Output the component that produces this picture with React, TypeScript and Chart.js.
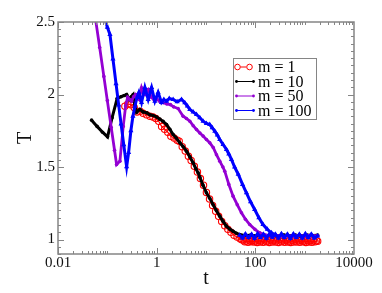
import React, { useEffect, useRef } from "react";
import { Chart, registerables } from "chart.js";
Chart.register(...registerables);

// ---- tick labels ----
const X_TICKS = [0.01, 1, 100, 10000];
const Y_TICKS = [1, 1.5, 2, 2.5];

// ---- m = 1 (red circles) ----
const tM1 = [0.227, 0.26, 0.3, 0.35, 0.4, 0.46, 0.53, 0.62, 0.73, 0.84, 0.96, 1.1, 1.26, 1.45, 1.68, 1.94, 2.25, 2.6, 2.86, 3.3, 3.8, 4.4, 5.0, 5.8, 6.7, 7.7, 8.9, 10.2, 11.8, 13.6, 15.7, 18, 20.8, 24, 27.7, 32, 37, 42.6, 49, 53, 57, 61, 66, 71, 76, 82, 88, 94, 101, 109, 117, 126, 135, 145, 155, 167, 179, 192, 206, 222, 238, 256, 274, 295, 316, 340, 364, 392, 420, 452, 484, 520, 558, 600, 643, 690, 741, 797, 855, 918, 985, 1058, 1136, 1220, 1310, 1408, 1510, 1620, 1740, 1833];
const TM1 = [1.919, 1.935, 1.93, 1.91, 1.88, 1.885, 1.87, 1.86, 1.85, 1.845, 1.834, 1.815, 1.78, 1.76, 1.74, 1.712, 1.70, 1.685, 1.678, 1.64, 1.61, 1.575, 1.545, 1.505, 1.465, 1.42, 1.375, 1.325, 1.28, 1.235, 1.195, 1.16, 1.125, 1.095, 1.07, 1.05, 1.03, 1.017, 1.005, 0.998, 0.996, 0.985, 0.99, 0.981, 0.993, 0.984, 0.995, 0.982, 0.992, 0.98, 0.995, 0.983, 0.993, 0.981, 0.996, 0.984, 0.992, 0.98, 0.994, 0.983, 0.995, 0.982, 0.993, 0.98, 0.996, 0.984, 0.993, 0.981, 0.995, 0.983, 0.992, 0.98, 0.994, 0.982, 0.996, 0.983, 0.993, 0.981, 0.995, 0.984, 0.992, 0.98, 0.994, 0.983, 0.995, 0.981, 0.993, 0.984, 0.992, 0.988];

// ---- m = 10 (black) ----
const tM10 = [0.048, 0.062, 0.08, 0.101, 0.125, 0.158, 0.19, 0.22, 0.246, 0.277, 0.305, 0.334, 0.36, 0.392, 0.457, 0.53, 0.625, 0.73, 0.849, 1.0, 1.16, 1.35, 1.585, 1.85, 2.16, 2.5, 2.95, 3.45, 4.03, 4.7, 5.48, 6.2, 6.92, 7.49, 8.7, 10.2, 11.9, 13.9, 16.2, 19, 22.2, 26, 30.3, 35.4, 41.3, 48.3, 60, 80, 100, 130, 170, 220, 290, 380, 500, 650, 850, 1100, 1450, 1833];
const TM10 = [1.823, 1.78, 1.74, 1.708, 1.84, 1.972, 1.985, 1.993, 2.0, 1.966, 1.985, 2.0, 1.93, 1.878, 1.897, 1.88, 1.874, 1.86, 1.855, 1.845, 1.83, 1.815, 1.793, 1.76, 1.724, 1.70, 1.667, 1.64, 1.609, 1.57, 1.529, 1.49, 1.46, 1.43, 1.375, 1.322, 1.285, 1.241, 1.2, 1.161, 1.125, 1.092, 1.072, 1.057, 1.043, 1.034, 1.028, 1.03, 1.025, 1.032, 1.027, 1.03, 1.024, 1.031, 1.026, 1.03, 1.025, 1.031, 1.027, 1.03];

// ---- m = 50 (purple) ----
const tM50 = [0.0565, 0.07, 0.085, 0.1, 0.12, 0.14, 0.154, 0.18, 0.21, 0.235, 0.258, 0.285, 0.31, 0.34, 0.374, 0.41, 0.442, 0.494, 0.54, 0.577, 0.62, 0.673, 0.789, 0.9, 1.0, 1.17, 1.355, 1.6, 1.9, 2.2, 2.72, 3.44, 4.0, 4.7, 5.5, 6.42, 7.5, 8.73, 10.2, 11.9, 14, 16.3, 19, 22, 24, 29, 35.4, 43, 52.3, 63, 77, 98, 123, 160, 210, 270, 350, 450, 580, 750, 970, 1250, 1600, 1833];
const TM50 = [2.54, 2.324, 2.125, 1.958, 1.772, 1.615, 1.517, 1.54, 1.78, 1.92, 1.98, 1.965, 1.954, 1.985, 2.0, 1.98, 1.966, 2.046, 2.01, 2.0, 2.02, 2.034, 1.979, 1.96, 1.97, 1.95, 1.943, 1.935, 1.93, 1.915, 1.903, 1.85, 1.835, 1.816, 1.785, 1.759, 1.735, 1.713, 1.69, 1.667, 1.635, 1.585, 1.54, 1.50, 1.471, 1.38, 1.299, 1.24, 1.184, 1.14, 1.103, 1.07, 1.046, 1.03, 1.025, 1.028, 1.022, 1.027, 1.024, 1.028, 1.023, 1.027, 1.024, 1.026];

// ---- m = 100 (blue) ----
const tM100 = [0.087, 0.1, 0.113, 0.13, 0.15, 0.17, 0.19, 0.215, 0.246, 0.27, 0.3, 0.33, 0.362, 0.4, 0.436, 0.494, 0.577, 0.673, 0.789, 0.92, 1.07, 1.256, 1.4, 1.585, 1.8, 2.16, 2.6, 3.19, 3.72, 4.2, 4.7, 5.5, 6.42, 7.5, 8.73, 10.2, 11.9, 13.4, 15.1, 17, 19, 22.2, 26, 29, 32.8, 38, 45, 55, 66, 80, 97, 118, 143, 175, 212, 260];
const TM100 = [2.54, 2.464, 2.414, 2.245, 2.075, 1.927, 1.796, 1.654, 1.501, 1.60, 1.75, 1.85, 1.919, 1.98, 2.014, 1.945, 2.048, 1.966, 2.048, 1.954, 2.014, 1.945, 1.965, 1.954, 1.972, 1.966, 1.95, 1.966, 1.943, 1.92, 1.897, 1.88, 1.862, 1.84, 1.816, 1.80, 1.793, 1.77, 1.747, 1.72, 1.69, 1.655, 1.621, 1.59, 1.552, 1.50, 1.45, 1.38, 1.322, 1.26, 1.207, 1.15, 1.103, 1.07, 1.046, 1.03];
// blue flat band at late times
const tM100Tail = [48, 55, 63, 73, 84, 96, 111, 127, 146, 168, 193, 222, 255, 294, 338, 388, 447, 514, 591, 679, 781, 898, 1033, 1188, 1366, 1571, 1833];
const TM100Tail = [1.03, 1.01, 1.038, 1.013, 1.036, 1.008, 1.039, 1.014, 1.037, 1.009, 1.038, 1.015, 1.036, 1.01, 1.039, 1.013, 1.037, 1.008, 1.038, 1.014, 1.036, 1.01, 1.039, 1.013, 1.037, 1.011, 1.025];

const SERIF = '"Liberation Serif", "DejaVu Serif", serif';
const AXIS_COLOR = "#858585";

const pts = (ts: number[], vs: number[]) => ts.map((t, i) => ({ x: t, y: vs[i] }));

const framePlugin = {
  id: "frameTicks",
  afterDatasetsDraw(chart: any) {
    const { ctx, chartArea: a, scales } = chart;
    const xs = scales.x;
    const ys = scales.y;
    ctx.save();
    ctx.strokeStyle = AXIS_COLOR;
    ctx.lineWidth = 1.5;
    ctx.strokeRect(a.left, a.top, a.right - a.left, a.bottom - a.top);
    ctx.lineWidth = 1;
    ctx.beginPath();
    for (let d = -2; d <= 3; d++) {
      for (let m = 1; m <= 9; m++) {
        const v = m * Math.pow(10, d);
        const px = Math.round(xs.getPixelForValue(v)) + 0.5;
        const major = X_TICKS.some((t) => Math.abs(t - v) / t < 1e-6);
        const len = major ? 6 : 3;
        ctx.moveTo(px, a.bottom);
        ctx.lineTo(px, a.bottom - len);
        ctx.moveTo(px, a.top);
        ctx.lineTo(px, a.top + len);
      }
    }
    for (let k = 18; k <= 50; k++) {
      const v = k * 0.05;
      const py = Math.round(ys.getPixelForValue(v)) + 0.5;
      const major = k % 10 === 0;
      const len = major ? 6 : 3;
      ctx.moveTo(a.left, py);
      ctx.lineTo(a.left + len, py);
      ctx.moveTo(a.right, py);
      ctx.lineTo(a.right - len, py);
    }
    ctx.stroke();
    ctx.restore();
  },
};

const legendPlugin = {
  id: "insetLegend",
  afterDraw(chart: any) {
    const { ctx } = chart;
    const bx = 233, by = 58, bw = 83, bh = 61;
    ctx.save();
    ctx.fillStyle = "#ffffff";
    ctx.fillRect(bx, by, bw, bh);
    ctx.strokeStyle = AXIS_COLOR;
    ctx.lineWidth = 1;
    ctx.strokeRect(bx + 0.5, by + 0.5, bw, bh);
    chart.data.datasets.forEach((ds: any, i: number) => {
      const y = by + 9 + i * 14.5;
      const c = ds.borderColor;
      ctx.strokeStyle = c;
      ctx.fillStyle = c;
      ctx.lineWidth = 1;
      if (i === 0) {
        ctx.beginPath();
        ctx.moveTo(240.5, y);
        ctx.lineTo(246, y);
        ctx.stroke();
        [237.5, 249.5].forEach((cx) => {
          ctx.beginPath();
          ctx.arc(cx, y, 2.8, 0, Math.PI * 2);
          ctx.stroke();
        });
      } else {
        ctx.beginPath();
        ctx.moveTo(236, y);
        ctx.lineTo(254, y);
        ctx.stroke();
        [236.5, 253.5].forEach((cx) => {
          ctx.beginPath();
          ctx.arc(cx, y, 1.4, 0, Math.PI * 2);
          ctx.fill();
        });
      }
      ctx.fillStyle = "#000";
      ctx.font = `16px ${SERIF}`;
      ctx.textBaseline = "middle";
      ctx.textAlign = "left";
      ctx.fillText(ds.label, 258, y + 1);
    });
    ctx.restore();
  },
};

export default function App() {
  const ref = useRef<HTMLCanvasElement>(null);
  useEffect(() => {
    document.body.style.margin = "0";
    if (!ref.current) return;
    const blueData: any[] = [
      ...pts(tM100, TM100),
      { x: tM100Tail[0], y: null },
      ...pts(tM100Tail, TM100Tail),
    ];
    const chart = new Chart(ref.current, {
      type: "line",
      data: {
        datasets: [
          {
            label: "m = 1",
            data: pts(tM1, TM1),
            borderColor: "#ff0000",
            borderWidth: 1.2,
            pointStyle: "circle",
            pointRadius: 3.2,
            pointBorderWidth: 1.1,
            pointBorderColor: "#ff0000",
            pointBackgroundColor: "rgba(255,255,255,0)",
            order: 4,
          },
          {
            label: "m = 10",
            data: pts(tM10, TM10),
            borderColor: "#000000",
            backgroundColor: "#000000",
            borderWidth: 3,
            pointRadius: 1.8,
            pointBorderWidth: 0,
            pointBackgroundColor: "#000000",
            order: 3,
          },
          {
            label: "m = 50",
            data: pts(tM50, TM50),
            borderColor: "#9400d3",
            backgroundColor: "#9400d3",
            borderWidth: 2.8,
            pointRadius: 1.8,
            pointBorderWidth: 0,
            pointBackgroundColor: "#9400d3",
            order: 2,
          },
          {
            label: "m = 100",
            data: blueData,
            borderColor: "#0000ff",
            backgroundColor: "#0000ff",
            borderWidth: 3,
            pointStyle: "triangle",
            pointRadius: 3,
            pointBorderWidth: 0,
            pointBackgroundColor: "#0000ff",
            order: 1,
          },
        ],
      },
      options: {
        animation: false,
        responsive: false,
        events: [],
        layout: { padding: { left: 0, top: 22, right: 28, bottom: 0 } },
        plugins: { legend: { display: false }, tooltip: { enabled: false } },
        elements: { line: { tension: 0 } },
        scales: {
          x: {
            type: "logarithmic",
            min: 0.01,
            max: 10000,
            position: "bottom",
            afterBuildTicks: (s: any) => {
              s.ticks = X_TICKS.map((v) => ({ value: v }));
            },
            afterFit: (s: any) => {
              s.height = 39;
            },
            grid: { display: false, drawTicks: false },
            border: { display: false },
            ticks: {
              autoSkip: false,
              maxRotation: 0,
              padding: 0,
              color: "#111",
              font: { family: SERIF, size: 15 },
              callback: (v: any) => String(v),
            },
            title: {
              display: true,
              text: "t",
              color: "#111",
              font: { family: SERIF, size: 20 },
              padding: { top: 0, bottom: 2 },
            },
          },
          y: {
            type: "linear",
            min: 0.9,
            max: 2.5,
            afterBuildTicks: (s: any) => {
              s.ticks = Y_TICKS.map((v) => ({ value: v }));
            },
            afterFit: (s: any) => {
              s.width = 58;
            },
            grid: { display: false, drawTicks: false },
            border: { display: false },
            ticks: {
              autoSkip: false,
              padding: 3,
              color: "#111",
              font: { family: SERIF, size: 15 },
              callback: (v: any) => String(v),
            },
            title: {
              display: true,
              text: "T",
              color: "#111",
              font: { family: SERIF, size: 20 },
              padding: { top: 14, bottom: 0 },
            },
          },
        },
      },
      plugins: [framePlugin, legendPlugin],
    } as any);
    return () => chart.destroy();
  }, []);
  return (
    <div style={{ width: 382, height: 293 }}>
      <canvas ref={ref} width={382} height={293} style={{ display: "block" }} />
    </div>
  );
}
